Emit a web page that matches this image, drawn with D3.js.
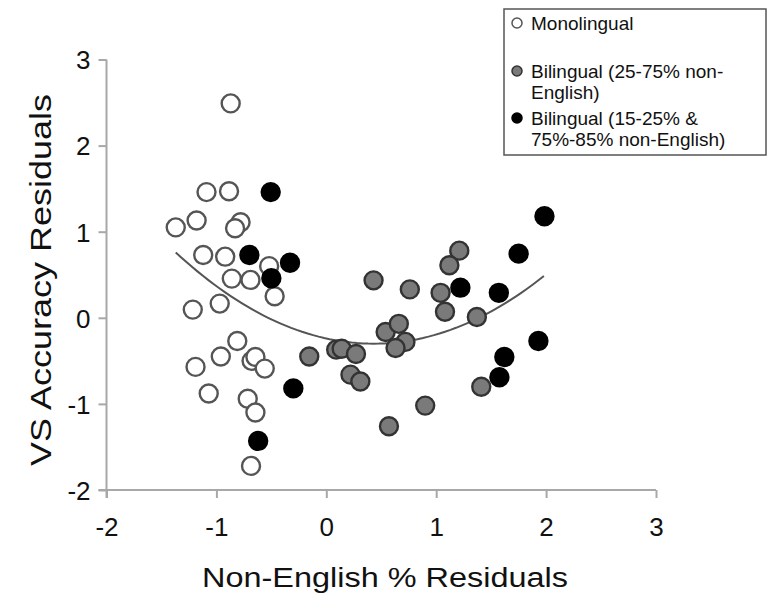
<!DOCTYPE html>
<html>
<head>
<meta charset="utf-8">
<script src="https://cdn.jsdelivr.net/npm/d3@7"></script>
<style>
  body { margin: 0; background: #fff; }
  text { font-family: "Liberation Sans", Arial, sans-serif; fill: #111; }
</style>
</head>
<body>
<div id="chart"></div>
<script>
// values
var monolingual = [
  [-0.87, 2.49], [-1.09, 1.46], [-0.885, 1.47], [-1.37, 1.05], [-1.18, 1.13],
  [-0.78, 1.11], [-0.83, 1.04], [-1.12, 0.73], [-0.92, 0.71], [-0.52, 0.60],
  [-0.86, 0.455], [-0.69, 0.44], [-0.47, 0.25], [-1.215, 0.095], [-0.97, 0.165],
  [-0.81, -0.27], [-0.96, -0.45], [-1.19, -0.57], [-0.68, -0.50], [-0.645, -0.455],
  [-0.56, -0.59], [-1.07, -0.88], [-0.715, -0.94], [-0.645, -1.10], [-0.685, -1.72]
];
var bilingualMid = [
  [-0.155, -0.45], [0.09, -0.37], [0.14, -0.36], [0.27, -0.42], [0.22, -0.66],
  [0.31, -0.74], [0.43, 0.435], [0.76, 0.33], [1.21, 0.78], [1.12, 0.61],
  [1.04, 0.29], [1.08, 0.07], [0.54, -0.165], [0.66, -0.07], [0.72, -0.28],
  [0.63, -0.35], [0.90, -1.02], [0.57, -1.26], [1.37, 0.01], [1.41, -0.80]
];
var bilingualEdge = [
  [-0.506, 1.46], [-0.70, 0.73], [-0.33, 0.64], [-0.50, 0.46], [-0.30, -0.82],
  [-0.62, -1.43], [1.22, 0.35], [1.985, 1.18], [1.75, 0.745], [1.57, 0.29],
  [1.93, -0.27], [1.62, -0.455], [1.575, -0.69]
];
// polynomial trend line y = a x^2 + b x + c, drawn from x=-1.37 to 1.985
var trendCoef = [0.327, -0.281, -0.24];
var trendRange = [-1.37, 1.985];
var xTicks = [-2, -1, 0, 1, 2, 3];
var yTicks = [-2, -1, 0, 1, 2, 3];
var legendLabels = [
  ["Monolingual"],
  ["Bilingual (25-75% non-", "English)"],
  ["Bilingual (15-25% &", "75%-85% non-English)"]
];

var W = 768, H = 599;
var svg = d3.select("#chart").append("svg").attr("width", W).attr("height", H);

var x = d3.scaleLinear().domain([-2, 3]).range([106.5, 656]);
var y = d3.scaleLinear().domain([-2, 3]).range([490, 59.5]);

var axisColor = "#a8a8a8";
var plainNum = function(d) { return String(d); };   // keeps the hyphen minus

// y axis
var gy = svg.append("g").attr("transform", "translate(" + x(-2) + ",0)")
  .call(d3.axisLeft(y).tickValues(yTicks).tickSize(8).tickPadding(8).tickFormat(plainNum));
// x axis
var gx = svg.append("g").attr("transform", "translate(0," + y(-2) + ")")
  .call(d3.axisBottom(x).tickValues(xTicks).tickSize(8).tickPadding(38).tickFormat(plainNum));

[gx, gy].forEach(function(g) {
  g.select(".domain").remove();
  g.selectAll(".tick line").attr("stroke", axisColor).attr("stroke-width", 2);
  g.selectAll(".tick text").style("font-size", "26px").attr("fill", "#111")
    .style("font-family", "'Liberation Sans', Arial, sans-serif");
});
gy.selectAll(".tick text").attr("dy", "0.36em");
gx.selectAll(".tick text").attr("dy", "0");

svg.append("line").attr("x1", x(-2)).attr("x2", x(-2)).attr("y1", y(3)).attr("y2", y(-2) + 8)
  .attr("stroke", axisColor).attr("stroke-width", 2);
svg.append("line").attr("x1", x(-2) - 8).attr("x2", x(3)).attr("y1", y(-2)).attr("y2", y(-2))
  .attr("stroke", axisColor).attr("stroke-width", 2);

// axis titles
svg.append("text").attr("x", 385).attr("y", 587).attr("text-anchor", "middle")
  .style("font-size", "27px").attr("textLength", 366).attr("lengthAdjust", "spacingAndGlyphs")
  .text("Non-English % Residuals");
svg.append("text").attr("transform", "translate(51,280) rotate(-90)")
  .attr("text-anchor", "middle").style("font-size", "30px")
  .attr("textLength", 372).attr("lengthAdjust", "spacingAndGlyphs")
  .text("VS Accuracy Residuals");

// trend line
var trendX = d3.range(trendRange[0], trendRange[1] + 0.001, 0.05);
var trendLine = d3.line()
  .x(function(d) { return x(d); })
  .y(function(d) { return y(trendCoef[0] * d * d + trendCoef[1] * d + trendCoef[2]); });
svg.append("path").datum(trendX).attr("d", trendLine)
  .attr("fill", "none").attr("stroke", "#555").attr("stroke-width", 2);

// points
var styles = [
  { data: monolingual, fill: "#fff", stroke: "#555" },
  { data: bilingualMid, fill: "#7a7a7a", stroke: "#333" },
  { data: bilingualEdge, fill: "#000", stroke: "#000" }
];
styles.forEach(function(s) {
  svg.append("g").selectAll("circle").data(s.data).enter().append("circle")
    .attr("cx", function(d) { return x(d[0]); })
    .attr("cy", function(d) { return y(d[1]); })
    .attr("r", 9)
    .attr("fill", s.fill).attr("stroke", s.stroke).attr("stroke-width", 2.4);
});

// legend
var leg = svg.append("g").attr("class", "legend");
leg.append("rect").attr("x", 504).attr("y", 9).attr("width", 262).attr("height", 146)
  .attr("fill", "#fff").attr("stroke", "#555").attr("stroke-width", 1.5);
var legRowY = [23, 71, 118];
var legItems = leg.selectAll("g.item").data(legendLabels).enter().append("g").attr("class", "item")
  .attr("transform", function(d, i) { return "translate(517," + legRowY[i] + ")"; });
legItems.append("circle").attr("r", 5)
  .attr("fill", function(d, i) { return styles[i].fill; })
  .attr("stroke", function(d, i) { return styles[i].stroke; })
  .attr("stroke-width", 1.5);
legItems.each(function(lines) {
  var g = d3.select(this);
  lines.forEach(function(t, j) {
    g.append("text").attr("x", 14).attr("y", 6.5 + j * 21).style("font-size", "19px").text(t);
  });
});
</script>
</body>
</html>
